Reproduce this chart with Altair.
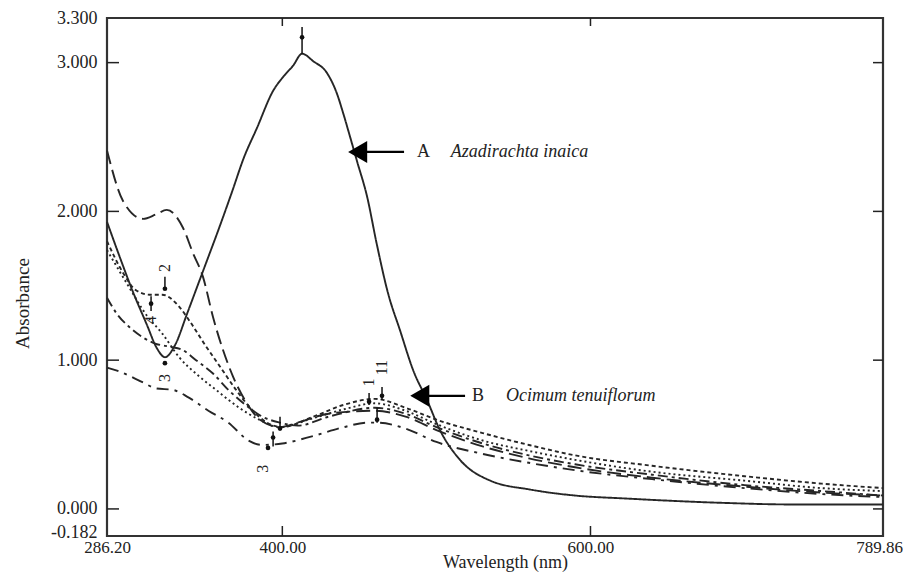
import altair as alt
import pandas as pd

# ---------------- data ----------------
a_wl = [286.2, 294.6, 303.0, 312.0, 318.6, 323.8, 330.3, 338.1, 344.6, 351.1, 357.6,
        367.3, 375.0, 383.5, 394.0, 401.0, 407.0, 412.8, 420.0, 429.0, 435.5, 439.5, 444.0,
        448.4, 455.0, 461.3, 468.6, 476.4, 485.0, 494.0, 502.3, 515.3, 535.0, 561.0, 590.0,
        623.0, 688.0, 731.0, 789.86]
a_abs = [1.93, 1.69, 1.46, 1.24, 1.08, 1.02, 1.10, 1.31, 1.49, 1.67, 1.85,
         2.13, 2.36, 2.56, 2.81, 2.91, 2.98, 3.06, 3.01, 2.93, 2.79, 2.66, 2.50,
         2.34, 2.10, 1.78, 1.45, 1.20, 0.93, 0.73, 0.53, 0.33, 0.19, 0.13, 0.09,
         0.07, 0.04, 0.03, 0.03]

b1_wl = [286.2, 296.6, 309.6, 318.0, 325.0, 335.5, 342.0, 348.5, 355.0, 368.0, 377.0, 385.5,
         398.5, 410.0, 430.0, 460.0, 480.0, 500.0, 530.0, 560.0, 590.0, 640.0, 700.0, 750.0, 789.86]
b1_abs = [2.41, 2.07, 1.95, 1.98, 2.01, 1.89, 1.72, 1.56, 1.29, 0.89, 0.71, 0.60,
          0.55, 0.58, 0.64, 0.66, 0.62, 0.53, 0.42, 0.34, 0.28, 0.21, 0.15, 0.11, 0.09]

b2_wl = [286.2, 297.0, 305.0, 314.0, 322.0, 333.0, 340.0, 350.0, 360.0, 370.0, 380.0, 390.0,
         400.0, 420.0, 440.0, 460.0, 480.0, 500.0, 530.0, 560.0, 590.0, 640.0, 700.0, 750.0, 789.86]
b2_abs = [1.80, 1.58, 1.47, 1.44, 1.44, 1.36, 1.26, 1.10, 0.95, 0.80, 0.67, 0.58,
          0.55, 0.62, 0.70, 0.74, 0.68, 0.60, 0.51, 0.43, 0.36, 0.29, 0.22, 0.17, 0.14]

b3_wl = [286.2, 300.0, 312.0, 322.0, 333.0, 345.0, 357.0, 372.0, 385.0, 398.0,
         420.0, 440.0, 460.0, 480.0, 500.0, 530.0, 560.0, 590.0, 640.0, 700.0, 750.0, 789.86]
b3_abs = [1.74, 1.50, 1.30, 1.18, 1.02, 0.90, 0.80, 0.68, 0.60, 0.55,
          0.61, 0.67, 0.71, 0.66, 0.57, 0.46, 0.39, 0.33, 0.25, 0.19, 0.14, 0.12]

b4_wl = [286.2, 292.7, 301.0, 310.0, 318.0, 327.0, 335.0, 344.0, 355.0, 365.0, 376.0, 387.0,
         398.5, 410.0, 430.0, 460.0, 480.0, 500.0, 530.0, 560.0, 590.0, 640.0, 700.0, 750.0, 789.86]
b4_abs = [1.42, 1.31, 1.22, 1.15, 1.11, 1.09, 1.07, 1.00, 0.91, 0.80, 0.70, 0.62,
          0.58, 0.56, 0.62, 0.68, 0.64, 0.55, 0.44, 0.36, 0.30, 0.23, 0.16, 0.12, 0.09]

b5_wl = [286.2, 292.7, 309.6, 318.0, 329.0, 339.0, 352.0, 365.0, 378.0, 387.0, 400.0,
         420.0, 440.0, 455.0, 462.0, 480.0, 500.0, 530.0, 560.0, 590.0, 640.0, 700.0, 750.0, 789.86]
b5_abs = [0.95, 0.93, 0.85, 0.81, 0.80, 0.75, 0.66, 0.58, 0.46, 0.43, 0.44,
          0.49, 0.55, 0.58, 0.58, 0.54, 0.45, 0.37, 0.31, 0.26, 0.20, 0.14, 0.10, 0.08]

series_names = ["A", "B1", "B2", "B3", "B4", "B5"]
series_dash = [[1, 0], [14, 6], [4, 3], [2, 3], [10, 4, 3, 4], [12, 6, 3, 6]]

# peak markers
mark_wl = [412.8, 323.8, 314.8, 323.8, 398.5, 394.0, 390.7, 456.3, 464.7, 461.5]
mark_abs = [3.17, 1.48, 1.38, 0.98, 0.54, 0.48, 0.41, 0.72, 0.76, 0.60]
tick_wl = [412.8, 323.8, 314.8, 398.5, 394.0, 456.3, 464.7, 461.5]
tick_lo = [3.06, 1.48, 1.33, 0.54, 0.42, 0.70, 0.73, 0.58]
tick_hi = [3.24, 1.56, 1.43, 0.62, 0.52, 0.78, 0.82, 0.68]
peak_label = ["2", "4", "3", "3", "1", "11"]
peak_label_wl = [323.8, 314.8, 323.8, 387.5, 456.3, 464.7]
peak_label_abs = [1.62, 1.27, 0.88, 0.27, 0.85, 0.95]

# annotations
arrow_head_wl = [448.9, 489.2]
arrow_head_abs = [2.40, 0.76]
arrow_tail_wl = [479.0, 518.6]
letter_text = ["A", "B"]
letter_wl = [491.6, 527.0]
species_text = ["Azadirachta inaica", "Ocimum tenuiflorum"]
species_wl = [509.3, 545.2]

x_ticks = [286.2, 400.0, 600.0, 789.86]
y_ticks = [-0.182, 0.0, 1.0, 2.0, 3.0, 3.3]
x_inner = [400.0, 600.0]
y_inner = [0.0, 1.0, 2.0, 3.0]

# ---------------- build tables ----------------
rows = []
for name, wl, ab in zip(series_names,
                        [a_wl, b1_wl, b2_wl, b3_wl, b4_wl, b5_wl],
                        [a_abs, b1_abs, b2_abs, b3_abs, b4_abs, b5_abs]):
    for i, (w, v) in enumerate(zip(wl, ab)):
        rows.append({"series": name, "wl": w, "abs": v, "o": i})
df = pd.DataFrame(rows)

W, H = 776, 518
FONT = "Liberation Serif, Times New Roman, serif"
INK = "#222222"

xs = alt.Scale(domain=[286.2, 789.86], nice=False, zero=False)
ys = alt.Scale(domain=[-0.182, 3.3], nice=False, zero=False)

x_axis = alt.Axis(values=x_ticks, format=".2f", ticks=False, tickSize=0, domain=False, grid=False,
                  labelFont=FONT, labelFontSize=17, labelColor=INK, labelPadding=3,
                  labelOverlap=False, labelFlush=False,
                  labelOffset={"condition": {"test": "datum.value > 700", "value": -4}, "value": 0},
                  title="Wavelength (nm)", titleFont=FONT, titleFontSize=18, titleFontWeight="normal",
                  titleColor=INK, titlePadding=-2, titleX=398)
y_axis = alt.Axis(values=y_ticks, format=".3f", ticks=False, tickSize=0, domain=False, grid=False,
                  labelFont=FONT, labelFontSize=18, labelColor=INK, labelPadding=10,
                  labelOverlap=False, labelFlush=False,
                  labelOffset={"condition": {"test": "datum.value < -0.1", "value": -4}, "value": 0},
                  labelExpr="replace(datum.label, '\u2212', '-')",
                  title="Absorbance", titleFont=FONT, titleFontSize=19, titleFontWeight="normal",
                  titleColor=INK, titlePadding=18, titleY=285)


def X(field="wl"):
    return alt.X(f"{field}:Q", scale=xs, title="Wavelength (nm)")


def Y(field="abs"):
    return alt.Y(f"{field}:Q", scale=ys, title="Absorbance")


lines = alt.Chart(df).mark_line(strokeWidth=1.9, color="#262626", interpolate="monotone").encode(
    x=alt.X("wl:Q", scale=xs, axis=x_axis, title="Wavelength (nm)"),
    y=alt.Y("abs:Q", scale=ys, axis=y_axis, title="Absorbance"),
    detail="series:N",
    order="o:Q",
    strokeDash=alt.StrokeDash("series:N", scale=alt.Scale(domain=series_names, range=series_dash), legend=None),
)

# inner ticks
left_ticks = alt.Chart(pd.DataFrame({"abs": y_inner})).mark_rule(color=INK, strokeWidth=1.5).encode(
    y=Y(), x=alt.value(0), x2=alt.value(12))
right_ticks = alt.Chart(pd.DataFrame({"abs": y_inner})).mark_rule(color=INK, strokeWidth=1.5).encode(
    y=Y(), x=alt.value(W - 10), x2=alt.value(W))
bottom_ticks = alt.Chart(pd.DataFrame({"wl": x_inner})).mark_rule(color=INK, strokeWidth=1.5).encode(
    x=X(), y=alt.value(H), y2=alt.value(H - 10))
top_ticks = alt.Chart(pd.DataFrame({"wl": x_inner})).mark_rule(color=INK, strokeWidth=1.5).encode(
    x=X(), y=alt.value(0), y2=alt.value(8))

# peak markers
mk = pd.DataFrame({"wl": mark_wl, "abs": mark_abs})
mk_pts = alt.Chart(mk).mark_circle(size=22, color="#111111", opacity=1).encode(x=X(), y=Y())
tk = pd.DataFrame({"wl": tick_wl, "abs": tick_lo, "abs2": tick_hi})
mk_ticks = alt.Chart(tk).mark_rule(color="#111111", strokeWidth=1.5).encode(x=X(), y=Y(), y2="abs2:Q")
pl = pd.DataFrame({"t": peak_label, "wl": peak_label_wl, "abs": peak_label_abs})
peak_text = alt.Chart(pl).mark_text(font=FONT, fontSize=16, angle=270, color=INK).encode(
    x=X(), y=Y(), text="t:N")

# arrows
ar = pd.DataFrame({"wl": arrow_head_wl, "wl2": arrow_tail_wl, "abs": arrow_head_abs})
shafts = alt.Chart(ar).mark_rule(color="#000000", strokeWidth=2.2).encode(x=X(), x2="wl2:Q", y=Y())
heads = alt.Chart(ar).mark_point(shape="triangle-left", filled=True, size=484, color="#000000",
                                 opacity=1).encode(x=X(), y=Y())
lt = pd.DataFrame({"t": letter_text, "wl": letter_wl, "abs": arrow_head_abs})
letters = alt.Chart(lt).mark_text(font=FONT, fontSize=18, color=INK, align="center",
                                  baseline="middle").encode(x=X(), y=Y(), text="t:N")
sp = pd.DataFrame({"t": species_text, "wl": species_wl, "abs": arrow_head_abs})
species = alt.Chart(sp).mark_text(font=FONT, fontSize=18, fontStyle="italic", color=INK, align="left",
                                  baseline="middle").encode(x=X(), y=Y(), text="t:N")

chart = alt.layer(
    lines, left_ticks, right_ticks, bottom_ticks, top_ticks,
    mk_ticks, mk_pts, peak_text, shafts, heads, letters, species,
).properties(
    width=W, height=H,
    autosize=alt.AutoSizeParams(type="none"),
    padding={"left": 99, "top": 10, "right": 20, "bottom": 37},
    background="white",
).configure_view(
    stroke="#333333", strokeWidth=2.2, clip=False,
).configure_axis(
    labelFont=FONT, titleFont=FONT,
).configure_text(
    font=FONT,
)

chart.save("out.html", embed_options={"renderer": "svg", "actions": False})
